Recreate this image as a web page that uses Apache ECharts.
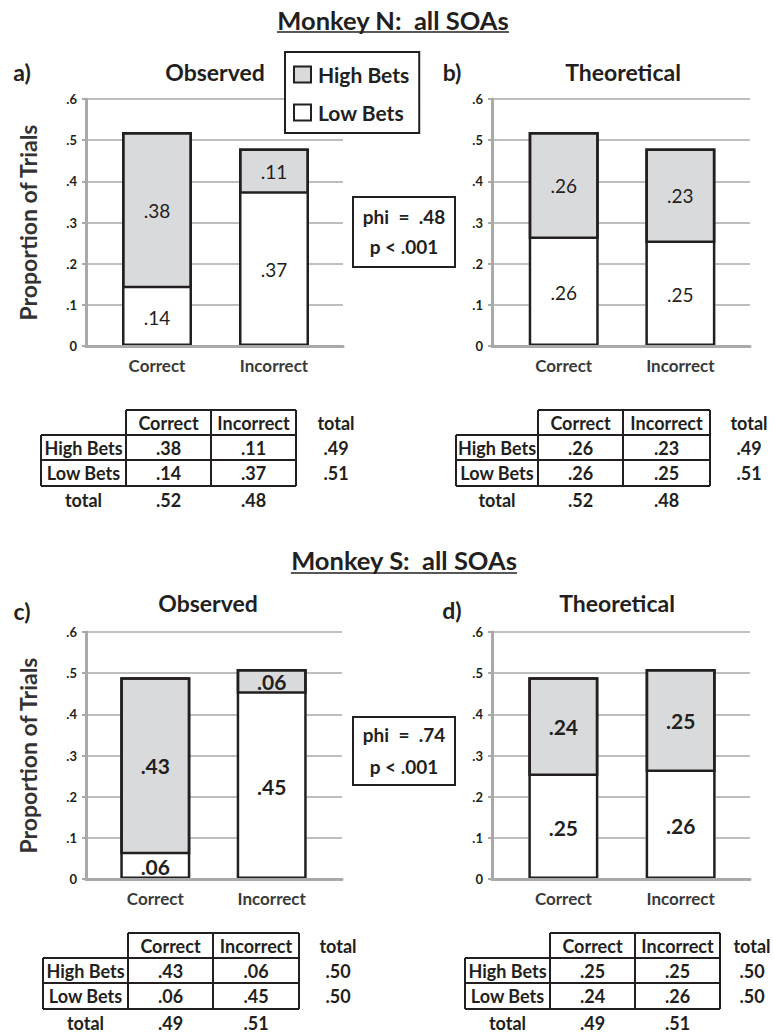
<!DOCTYPE html>
<html><head><meta charset="utf-8">
<script src="https://cdn.jsdelivr.net/npm/echarts@6/dist/echarts.min.js"></script>
<style>html,body{margin:0;padding:0;background:#fff}#c{width:774px;height:1034px}</style>
</head><body><div id="c"></div>
<script>
// ---------- data ----------
const categories = ['Correct', 'Incorrect'];
const yTickLabels = ['0', '.1', '.2', '.3', '.4', '.5', '.6'];
const betTypes = ['High Bets', 'Low Bets'];
const mainTitles = ['Monkey N:  all SOAs', 'Monkey S:  all SOAs'];
const panelTitles = ['Observed', 'Theoretical', 'Observed', 'Theoretical'];
const panelLetters = ['a)', 'b)', 'c)', 'd)'];
const yAxisTitle = 'Proportion of Trials';

// bar segments (as labelled on the bars)
const nObservedHigh = [0.38, 0.11];
const nObservedLow = [0.14, 0.37];
const nTheoreticalHigh = [0.26, 0.23];
const nTheoreticalLow = [0.26, 0.25];
const sObservedHigh = [0.43, 0.06];
const sObservedLow = [0.06, 0.45];
const sTheoreticalHigh = [0.24, 0.25];
const sTheoreticalLow = [0.25, 0.26];

// contingency tables
const nObsTableHigh = [0.38, 0.11], nObsTableLow = [0.14, 0.37];
const nObsRowTotals = [0.49, 0.51], nObsColTotals = [0.52, 0.48];
const nTheoTableHigh = [0.26, 0.23], nTheoTableLow = [0.26, 0.25];
const nTheoRowTotals = [0.49, 0.51], nTheoColTotals = [0.52, 0.48];
const sObsTableHigh = [0.43, 0.06], sObsTableLow = [0.06, 0.45];
const sObsRowTotals = [0.50, 0.50], sObsColTotals = [0.49, 0.51];
const sTheoTableHigh = [0.25, 0.25], sTheoTableLow = [0.24, 0.26];
const sTheoRowTotals = [0.50, 0.50], sTheoColTotals = [0.49, 0.51];

// statistics
const phiValues = ['.48', '.74'];
const pValues = ['.001', '.001'];

// ---------- styling / layout ----------
const FONT = 'Lato, "Open Sans", sans-serif';
const INK = '#231f20';
const GRAY = '#a9a9a9';
const HIGH_FILL = '#d9dadc';
const fmt = v => v.toFixed(2).replace(/^0/, '');

const panels = [
  {high: nObservedHigh, low: nObservedLow, frame: [86, 99, 257], bars: [98.5, 234], yName: true, labelSize: 19, labelWeight: 'normal'},
  {high: nTheoreticalHigh, low: nTheoreticalLow, frame: [492, 99, 258], bars: [505.4, 233.3], yName: false, labelSize: 19, labelWeight: 'normal'},
  {high: sObservedHigh, low: sObservedLow, frame: [86, 632, 256], bars: [97.1, 232.8], yName: true, labelSize: 21, labelWeight: 'bold'},
  {high: sTheoreticalHigh, low: sTheoreticalLow, frame: [492, 632, 258], bars: [504.7, 234.6], yName: false, labelSize: 21, labelWeight: 'bold'}
];
const PLOT_H = 247;

const grid = [], xAxis = [], yAxis = [], series = [];
panels.forEach((p, i) => {
  const fi = 2 * i, bi = 2 * i + 1;
  grid.push({left: p.frame[0], top: p.frame[1], width: p.frame[2], height: PLOT_H});
  grid.push({left: p.bars[0], top: p.frame[1], width: p.bars[1], height: PLOT_H});
  xAxis.push({
    type: 'category', gridIndex: fi, data: categories, z: 5,
    axisLine: {show: true, lineStyle: {color: GRAY, width: 3}},
    axisTick: {show: false}, axisLabel: {show: false}
  });
  xAxis.push({
    type: 'category', gridIndex: bi, data: categories,
    axisLine: {show: false}, axisTick: {show: false},
    axisLabel: {show: true, margin: 11, fontSize: 17, fontWeight: 'bold', color: '#3a3a3a', fontFamily: FONT}
  });
  yAxis.push({
    type: 'value', gridIndex: fi, min: 0, max: 0.6, interval: 0.1,
    name: p.yName ? yAxisTitle : '', nameLocation: 'middle', nameGap: 47,
    nameTextStyle: {fontSize: 23, fontWeight: 'bold', color: '#333', fontFamily: FONT},
    axisLine: {show: true, lineStyle: {color: GRAY, width: 3}},
    axisTick: {show: true, length: 4, lineStyle: {color: GRAY, width: 2}},
    axisLabel: {formatter: v => yTickLabels[Math.round(v * 10)], margin: 9, fontSize: 13, fontWeight: 'bold', color: INK, fontFamily: FONT},
    splitLine: {show: true, lineStyle: {color: GRAY, width: 1.5}}
  });
  yAxis.push({type: 'value', gridIndex: bi, min: 0, max: 0.6, show: false, splitLine: {show: false}});
  const lbl = {show: true, position: 'inside', formatter: q => fmt(q.value), fontSize: p.labelSize, fontWeight: p.labelWeight, color: INK, fontFamily: FONT};
  series.push({
    type: 'bar', name: betTypes[1], stack: 's' + i, xAxisIndex: bi, yAxisIndex: bi, data: p.low,
    barWidth: 70, barGap: '-100%', itemStyle: {color: '#ffffff', borderWidth: 0}, label: lbl
  });
  series.push({
    type: 'bar', name: betTypes[0], stack: 's' + i, xAxisIndex: bi, yAxisIndex: bi, data: p.high,
    barWidth: 70, barGap: '-100%', itemStyle: {color: HIGH_FILL, borderColor: INK, borderWidth: 2.5}, label: lbl
  });
  // outline of the whole stacked bar
  series.push({
    type: 'bar', name: 'outline', xAxisIndex: bi, yAxisIndex: bi, silent: true, z: 3,
    data: p.low.map((v, k) => v + p.high[k]),
    barWidth: 70, barGap: '-100%', itemStyle: {color: 'rgba(0,0,0,0)', borderColor: INK, borderWidth: 2.5}, label: {show: false}
  });
});

// ---------- graphic helpers ----------
const graphic = [];
function txt(x, y, s, size, weight, align, color) {
  graphic.push({type: 'text', x: x, y: y, z: 10, style: {
    text: s, fontSize: size, fontWeight: weight || 'bold', fontFamily: FONT,
    fill: color || INK, align: align || 'center', verticalAlign: 'middle'}});
}
function line(x1, y1, x2, y2, w, color) {
  graphic.push({type: 'line', z: 10, shape: {x1: x1, y1: y1, x2: x2, y2: y2},
    style: {stroke: color || INK, lineWidth: w || 2}});
}
function measure(s, size) {
  const c = document.createElement('canvas').getContext('2d');
  c.font = 'bold ' + size + 'px ' + FONT;
  return c.measureText(s).width;
}

// main titles with underline
[[393, 20, 32], [404, 560, 573]].forEach((t, i) => {
  txt(t[0], t[1], mainTitles[i], 25.5, 'bold');
  const w = measure(mainTitles[i], 25.5);
  line(t[0] - w / 2, t[2], t[0] + w / 2, t[2], 1.5);
});
// panel titles and letters
[[215, 72], [623, 72], [208, 603], [617, 603]].forEach((t, i) => txt(t[0], t[1], panelTitles[i], 23, 'bold'));
[[22, 72], [452, 72], [22, 611], [452, 610]].forEach((t, i) => txt(t[0], t[1], panelLetters[i], 23, 'bold'));

// phi boxes
[[353, 197, 102, 70, 216.5, 246.5], [353, 717, 102, 68, 734, 766]].forEach((b, i) => {
  graphic.push({type: 'rect', z: 10, shape: {x: b[0], y: b[1], width: b[2], height: b[3]},
    style: {fill: '#fff', stroke: INK, lineWidth: 2}});
  txt(b[0] + b[2] / 2, b[4], 'phi  =  ' + phiValues[i], 19, 'bold');
  txt(b[0] + b[2] / 2, b[5], 'p < ' + pValues[i], 19, 'bold');
});

// contingency tables
function table(xs, ys, totalX, totalRowY, high, low, rowTot, colTot) {
  const [L, c1, c2, c3] = xs, [T, r1, r2, r3] = ys;
  line(c1, T, c3, T); [c1, c2, c3].forEach(x => line(x, T, x, r3));
  [r1, r2, r3].forEach(y => line(L, y, c3, y)); line(L, r1, L, r3);
  const mid = (a, b) => (a + b) / 2;
  const size = 18;
  txt(mid(c1, c2), mid(T, r1), categories[0], size); txt(mid(c2, c3), mid(T, r1), categories[1], size);
  txt(totalX, mid(T, r1), 'total', size);
  [[high, mid(r1, r2)], [low, mid(r2, r3)]].forEach((row, k) => {
    txt(mid(L, c1), row[1], betTypes[k], size);
    txt(mid(c1, c2), row[1], fmt(row[0][0]), size);
    txt(mid(c2, c3), row[1], fmt(row[0][1]), size);
    txt(totalX, row[1], fmt(rowTot[k]), size);
  });
  txt(mid(L, c1), totalRowY, 'total', size);
  txt(mid(c1, c2), totalRowY, fmt(colTot[0]), size);
  txt(mid(c2, c3), totalRowY, fmt(colTot[1]), size);
}
table([41, 126, 211, 296], [410, 435, 460, 486], 336, 500, nObsTableHigh, nObsTableLow, nObsRowTotals, nObsColTotals);
table([456, 538, 623, 710], [410, 435, 460, 486], 749, 500, nTheoTableHigh, nTheoTableLow, nTheoRowTotals, nTheoColTotals);
table([43, 128, 213, 299], [933, 958, 983, 1009], 338, 1023, sObsTableHigh, sObsTableLow, sObsRowTotals, sObsColTotals);
table([465, 550, 635, 720], [933, 958, 983, 1009], 752, 1023, sTheoTableHigh, sTheoTableLow, sTheoRowTotals, sTheoColTotals);

const chart = echarts.init(document.getElementById('c'), null, {renderer: 'svg'});
chart.setOption({
  backgroundColor: '#fff',
  animation: false,
  textStyle: {fontFamily: FONT},
  legend: {
    data: betTypes, orient: 'vertical', left: 285, top: 52,
    padding: [12, 10, 10, 8], itemGap: 17, itemWidth: 17, itemHeight: 16, icon: 'rect',
    borderColor: INK, borderWidth: 2, backgroundColor: '#fff',
    itemStyle: {borderColor: INK, borderWidth: 2},
    textStyle: {fontSize: 21, lineHeight: 20, fontWeight: 'bold', color: INK, fontFamily: FONT, padding: [0, 0, 0, 2]}
  },
  grid: grid, xAxis: xAxis, yAxis: yAxis, series: series, graphic: graphic
});
</script></body></html>
